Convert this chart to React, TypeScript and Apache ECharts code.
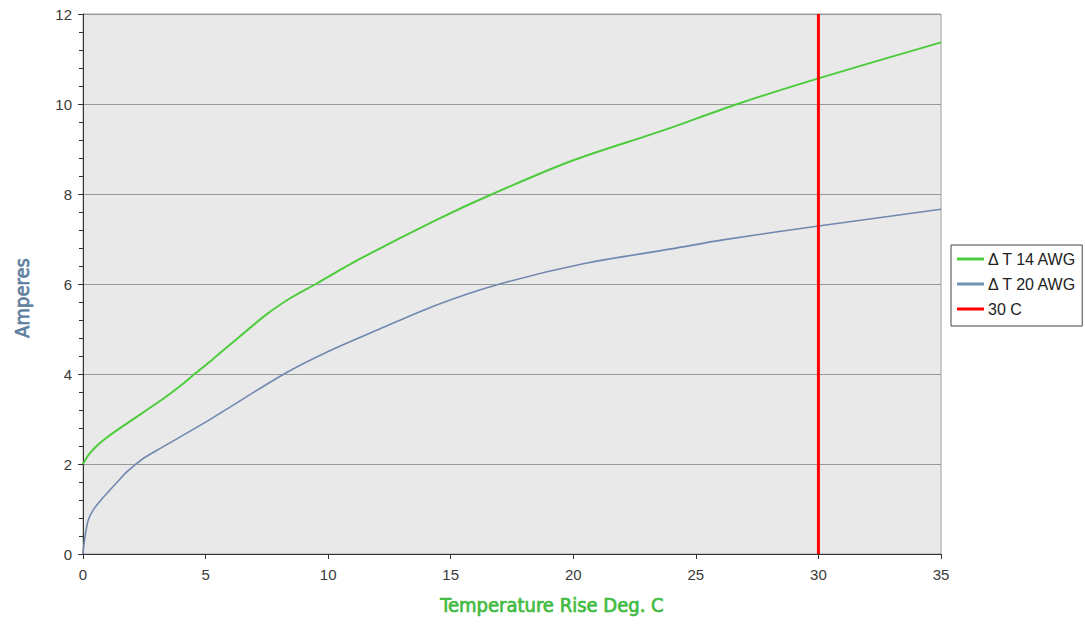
import React, { useEffect, useRef } from "react";
import * as echarts from "echarts";

const xTicks = [0, 5, 10, 15, 20, 25, 30, 35];
const yTicks = [0, 2, 4, 6, 8, 10, 12];

const awg14X = [0, 0.25, 0.6, 1.0, 1.6, 2.6, 3.3, 4.0, 4.6, 5.3, 6.1, 7.5, 8.5, 9.5, 11.2, 14.4, 16.7, 20, 23.7, 26.7, 30, 35];
const awg14Y = [2, 2.22, 2.42, 2.6, 2.83, 3.2, 3.46, 3.75, 4.02, 4.33, 4.7, 5.33, 5.7, 6.0, 6.53, 7.42, 8.0, 8.75, 9.42, 10.0, 10.57, 11.37];

const awg20X = [0, 0.08, 0.22, 0.42, 0.83, 1.4, 1.8, 2.4, 3, 5, 8.2, 10, 12.1, 14.4, 17, 20.5, 24, 26.1, 30, 35];
const awg20Y = [0, 0.38, 0.76, 0.98, 1.26, 1.6, 1.83, 2.1, 2.3, 2.93, 4.0, 4.5, 5.0, 5.53, 6.0, 6.46, 6.78, 6.98, 7.29, 7.66];

const limitX = [30, 30];
const limitY = [0, 12];

const seriesNames = ["Δ T 14 AWG", "Δ T 20 AWG", "30 C"];
const xTitle = "Temperature Rise Deg. C";
const yTitle = "Amperes";

const zip = (xs: number[], ys: number[]) => xs.map((x, i) => [x, ys[i]]);

export default function App() {
  const ref = useRef<HTMLDivElement>(null);
  useEffect(() => {
    if (!ref.current) return;
    const chart = echarts.init(ref.current, null, { renderer: "svg" });
    const labelFont = { fontFamily: "Liberation Sans, Arial, sans-serif", fontSize: 15, color: "#3a3a3a" };
    const titleFont = "DejaVu Sans Condensed, DejaVu Sans, sans-serif";
    chart.setOption({
      animation: false,
      grid: {
        left: 83,
        top: 14,
        right: 144,
        bottom: 72,
        show: true,
        backgroundColor: "#e9e9e9",
        borderColor: "#a0a0a0",
        borderWidth: 1,
      },
      legend: {
        orient: "vertical",
        left: 951,
        top: 245,
        padding: [6, 5, 9, 6],
        itemGap: 9,
        itemWidth: 27,
        itemHeight: 3,
        backgroundColor: "#fff",
        borderColor: "#444",
        borderWidth: 1,
        borderRadius: 0,
        textStyle: { ...labelFont, fontSize: 16, lineHeight: 16, color: "#222", padding: [0, 0, 0, -1] },
        data: seriesNames.map((n) => ({ name: n, icon: "rect" })),
      },
      graphic: [
        {
          type: "text",
          x: 552,
          y: 605,
          style: {
            text: xTitle,
            font: `20px ${titleFont}`,
            fill: "#42bb42",
            stroke: "#42bb42",
            lineWidth: 0.7,
            textAlign: "center",
            textVerticalAlign: "middle",
          },
        },
        {
          type: "text",
          x: 22,
          y: 298,
          rotation: Math.PI / 2,
          style: {
            text: yTitle,
            font: `20px ${titleFont}`,
            fill: "#5f7f9f",
            stroke: "#5f7f9f",
            lineWidth: 0.7,
            textAlign: "center",
            textVerticalAlign: "middle",
          },
        },
      ],
      xAxis: {
        type: "value",
        min: 0,
        max: 35,
        interval: 5,
        axisLine: { show: true, lineStyle: { color: "#333", width: 1 } },
        axisTick: { show: true, length: 5, inside: false, lineStyle: { color: "#333" } },
        axisLabel: { ...labelFont, margin: 13, formatter: (v: number) => (xTicks.includes(v) ? String(v) : "") },
        splitLine: { show: false },
      },
      yAxis: {
        type: "value",
        min: 0,
        max: 12,
        interval: 2,
        axisLine: { show: true, lineStyle: { color: "#333", width: 1 } },
        axisTick: { show: true, length: 5, inside: false, lineStyle: { color: "#333" } },
        minorTick: { show: true, splitNumber: 5, length: 4, lineStyle: { color: "#333" } },
        axisLabel: { ...labelFont, margin: 11, formatter: (v: number) => (yTicks.includes(v) ? String(v) : "") },
        splitLine: { show: true, lineStyle: { color: "#999", width: 1 } },
      },
      series: [
        {
          name: seriesNames[0],
          type: "line",
          data: zip(awg14X, awg14Y),
          smooth: 0.3,
          showSymbol: false,
          lineStyle: { color: "#4ccc3c", width: 2 },
          itemStyle: { color: "#4ccc3c" },
        },
        {
          name: seriesNames[1],
          type: "line",
          data: zip(awg20X, awg20Y),
          smooth: 0.3,
          showSymbol: false,
          lineStyle: { color: "#7088b0", width: 1.6 },
          itemStyle: { color: "#6f93b5" },
        },
        {
          name: seriesNames[2],
          type: "line",
          data: zip(limitX, limitY),
          showSymbol: false,
          lineStyle: { color: "#ff0000", width: 3 },
          itemStyle: { color: "#ff0000" },
        },
      ],
    });
    return () => chart.dispose();
  }, []);
  return (
    <div
      ref={ref}
      style={{ position: "fixed", left: 0, top: 0, width: 1085, height: 626, background: "#fff" }}
    />
  );
}
